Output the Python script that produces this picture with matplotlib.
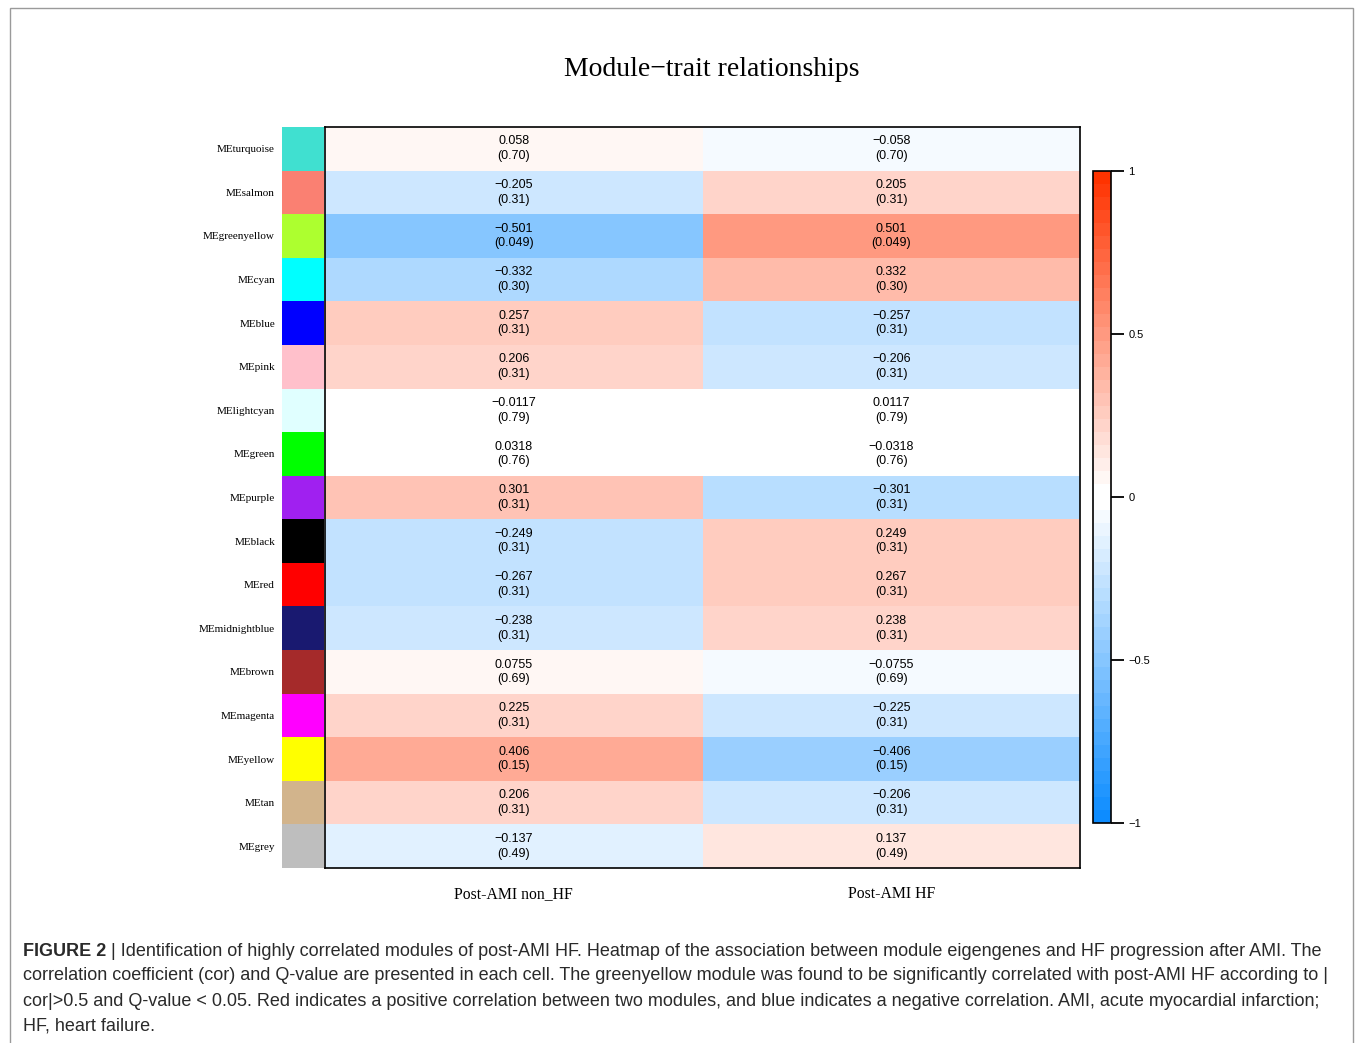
import matplotlib
matplotlib.use('Agg')
import matplotlib.pyplot as plt
import numpy as np
from matplotlib.colors import ListedColormap, BoundaryNorm
from matplotlib.patches import Rectangle

# ---- data ----
modules = ['MEturquoise', 'MEsalmon', 'MEgreenyellow', 'MEcyan', 'MEblue', 'MEpink',
           'MElightcyan', 'MEgreen', 'MEpurple', 'MEblack', 'MEred', 'MEmidnightblue',
           'MEbrown', 'MEmagenta', 'MEyellow', 'MEtan', 'MEgrey']
module_colors = ['#40E0D0', '#FA8072', '#ADFF2F', '#00FFFF', '#0000FF', '#FFC0CB',
                 '#E0FFFF', '#00FF00', '#A020F0', '#000000', '#FF0000', '#191970',
                 '#A52A2A', '#FF00FF', '#FFFF00', '#D2B48C', '#BEBEBE']
traits = ['Post-AMI non_HF', 'Post-AMI HF']
cor_non_hf = [0.058, -0.205, -0.501, -0.332, 0.257, 0.206, -0.0117, 0.0318, 0.301,
              -0.249, -0.267, -0.238, 0.0755, 0.225, 0.406, 0.206, -0.137]
cor_hf = [-0.058, 0.205, 0.501, 0.332, -0.257, -0.206, 0.0117, -0.0318, -0.301,
          0.249, 0.267, 0.238, -0.0755, -0.225, -0.406, -0.206, 0.137]
qvals = ['0.70', '0.31', '0.049', '0.30', '0.31', '0.31', '0.79', '0.76', '0.31',
         '0.31', '0.31', '0.31', '0.69', '0.31', '0.15', '0.31', '0.49']
cbar_ticks = [-1, -0.5, 0, 0.5, 1]

caption_lines = [
    'Identification of highly correlated modules of post-AMI HF. Heatmap of the association between module eigengenes and HF progression after AMI. The',
    'correlation coefficient (cor) and Q-value are presented in each cell. The greenyellow module was found to be significantly correlated with post-AMI HF according to |',
    'cor|>0.5 and Q-value < 0.05. Red indicates a positive correlation between two modules, and blue indicates a negative correlation. AMI, acute myocardial infarction;',
    'HF, heart failure.',
]

# blue-white-red palette, 50 steps, two white steps in the middle
blue_end = np.array([0.05, 0.55, 1.0])
red_end = np.array([1.0, 0.2, 0.0])
white = np.ones(3)
half = 25
frac = np.arange(half) / (half - 1)
cols = [blue_end + (white - blue_end) * f for f in frac]
cols += [white + (red_end - white) * f for f in frac]
cmap = ListedColormap(cols)
norm = BoundaryNorm(np.linspace(-1, 1, 2 * half + 1), 2 * half)

W, H = 1355, 1043
fig = plt.figure(figsize=(W / 100, H / 100), dpi=100)


def box(x0, y0, x1, y1):
    return [x0 / W, 1 - y1 / H, (x1 - x0) / W, (y1 - y0) / H]


serif = ['Liberation Serif', 'DejaVu Serif']
sans = ['Liberation Sans', 'DejaVu Sans']

# outer frame
fig.patches.append(Rectangle((10 / W, -0.02), 1343 / W, 1 - 8 / H + 0.02,
                             transform=fig.transFigure, fill=False,
                             edgecolor='#9a9a9a', linewidth=1))

fig.text(712 / W, 1 - 70 / H, 'Module\u2212trait relationships', family=serif,
         fontsize=20, ha='center', va='center')

# heatmap
data = np.column_stack([cor_non_hf, cor_hf])
nrow = len(modules)
ax = fig.add_axes(box(325, 127, 1080, 868))
ax.pcolormesh(np.arange(3), np.arange(nrow + 1), data, cmap=cmap, norm=norm)
ax.set_xlim(0, 2)
ax.set_ylim(nrow, 0)
for i in range(nrow):
    for j, vals in enumerate([cor_non_hf, cor_hf]):
        s = f'{vals[i]:.3g}'.replace('-', '\u2212')
        ax.text(j + 0.5, i + 0.5, f'{s}\n({qvals[i]})', ha='center', va='center',
                family=sans, fontsize=9, linespacing=1.3)
ax.set_xticks([0.5, 1.5])
ax.set_xticklabels(traits, family=serif, fontsize=11.3)
ax.tick_params(axis='x', length=0, pad=13)
ax.set_yticks([])
for sp in ax.spines.values():
    sp.set_linewidth(1.2)

# module colour strip
ax2 = fig.add_axes(box(282, 127, 324, 868))
ax2.pcolormesh(np.arange(2), np.arange(nrow + 1), np.arange(nrow).reshape(-1, 1),
               cmap=ListedColormap(module_colors), vmin=-0.5, vmax=nrow - 0.5)
ax2.set_ylim(nrow, 0)
ax2.set_xticks([])
ax2.set_yticks(np.arange(nrow) + 0.5)
ax2.set_yticklabels(modules, family=serif, fontsize=8)
ax2.tick_params(axis='y', length=0, pad=5)
for sp in ax2.spines.values():
    sp.set_visible(False)

# colorbar
cax = fig.add_axes(box(1093, 171, 1111, 823))
cb = fig.colorbar(plt.cm.ScalarMappable(norm=norm, cmap=cmap), cax=cax, ticks=cbar_ticks)
cb.ax.minorticks_off()
cb.ax.set_yticklabels(['\u22121', '\u22120.5', '0', '0.5', '1'], family=sans, fontsize=8)
cb.ax.tick_params(length=9.5, width=1.3, pad=3)
cb.outline.set_linewidth(1.2)

# caption
r = fig.canvas.get_renderer()
y0 = 951
cap_font = ['Liberation Sans Narrow', 'Liberation Sans']
bold = fig.text(23 / W, 1 - y0 / H, 'FIGURE 2', family=cap_font, fontweight='bold',
                fontsize=13, va='center', color='#2a2a2a')
bb = bold.get_window_extent(renderer=r)
fig.text(bb.x1 / W, 1 - y0 / H, ' | ' + caption_lines[0], family=cap_font,
         fontsize=13, va='center', color='#2a2a2a')
for k, line in enumerate(caption_lines[1:], start=1):
    fig.text(23 / W, 1 - (y0 + 25 * k) / H, line, family=cap_font, fontsize=13,
             va='center', color='#2a2a2a')

fig.savefig('out.png', dpi=100)
